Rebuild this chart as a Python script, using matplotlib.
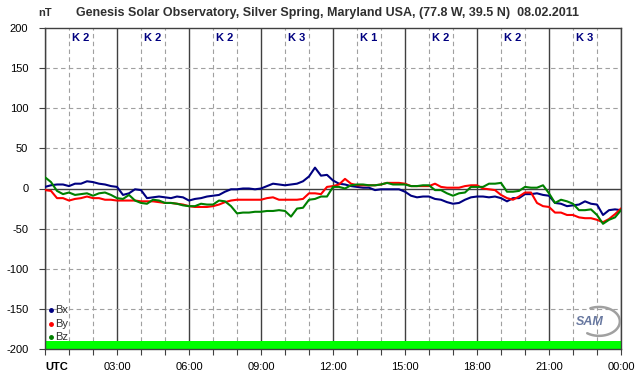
import numpy as np
import matplotlib
matplotlib.use("Agg")
import matplotlib.pyplot as plt

hours = [i * 0.25 for i in range(97)]

bx = [2, 4, 5, 5, 3, 6, 6, 9, 8, 6, 5, 3, 2, -8, -6, -1, -2, -12, -11, -10,
      -11, -12, -10, -11, -15, -13, -12, -10, -9, -8, -4, -1, -1, 0, 0, -1,
      0, 3, 6, 5, 4, 5, 6, 9, 15, 26, 16, 17, 10, 6, 5, 3, 2, 1, 1, -2,
      -1, -1, -1, -1, -4, -9, -11, -10, -10, -13, -14, -17, -19, -18, -14, -11,
      -10, -10, -11, -10, -12, -16, -12, -12, -7, -7, -6, -8, -9, -18, -19, -22,
      -21, -20, -16, -19, -20, -33, -27, -26, -27]

by = [-2, -3, -12, -12, -15, -13, -12, -10, -12, -12, -14, -14, -15, -15, -15, -15,
      -16, -16, -16, -17, -18, -18, -19, -20, -22, -23, -23, -23, -22, -20, -17, -15,
      -14, -14, -14, -14, -14, -12, -11, -14, -14, -14, -14, -13, -6, -6, -7, 2,
      3, 5, 12, 6, 4, 4, 4, 4, 5, 7, 7, 7, 6, 3, 3, 3,
      3, 6, 2, 1, 1, 1, 3, 4, 4, 0, -1, -2, -8, -12, -14, -10,
      -5, -5, -18, -22, -23, -30, -30, -33, -33, -36, -37, -37, -39, -42, -38, -32, -25]

bz = [14, 8, -3, -7, -5, -8, -7, -6, -9, -6, -5, -8, -12, -13, -8, -15,
      -18, -19, -14, -15, -18, -18, -19, -21, -22, -22, -19, -20, -20, -15, -16, -22,
      -31, -30, -30, -29, -29, -28, -28, -27, -28, -35, -25, -24, -14, -13, -10, -10,
      2, 2, 0, 4, 5, 5, 4, 4, 5, 7, 5, 5, 5, 3, 3, 4,
      4, -2, -2, -6, -9, -6, -5, 2, 2, 2, 6, 6, 7, -4, -4, -3,
      2, 1, 1, 4, -6, -18, -14, -16, -19, -27, -27, -26, -33, -44, -39, -36, -27]

k_index = [2, 2, 2, 3, 1, 2, 2, 3]
x_tick_labels = ["UTC", "03:00", "06:00", "09:00", "12:00", "15:00", "18:00", "21:00", "00:00"]
series_names = ["Bx", "By", "Bz"]
series_colors = ["#000080", "#ff0000", "#008000"]

plt.rcParams['font.family'] = ['Liberation Sans', 'DejaVu Sans']

fig = plt.figure(figsize=(6.42, 3.76), dpi=100)
W, H = 642, 376
ax = fig.add_axes([45 / W, 1 - 349 / H, (621 - 45) / W, (349 - 28) / H])
ax.set_xlim(0, 24)
ax.set_ylim(-200, 200)

# grid
for h in range(25):
    if h % 3 == 0:
        ax.axvline(h, color="#404040", lw=1.0, zorder=1)
    else:
        ax.axvline(h, color="#a0a0a0", lw=0.8, ls=(0, (4, 3)), zorder=1)
for v in range(-150, 200, 50):
    if v == 0:
        ax.axhline(v, color="#404040", lw=1.0, zorder=1)
    else:
        ax.axhline(v, color="#a0a0a0", lw=0.8, ls=(0, (4, 3)), zorder=1)

# green bar
ax.axhspan(-200, -190, color="#00ff00", zorder=2, lw=0)

for vals, c in zip([bx, by, bz], series_colors):
    ax.plot(hours, vals, color=c, lw=1.5, zorder=3)

for spine in ax.spines.values():
    spine.set_color("#404040")
    spine.set_linewidth(1.0)

ax.set_yticks(range(-200, 201, 50))
ax.set_yticklabels([str(v) for v in range(-200, 201, 50)], fontsize=8)
ax.tick_params(axis="y", length=4, width=0.8, color="#404040", pad=8)
ax.set_xticks(range(0, 25))
ax.set_xticklabels([""] * 25)
ax.tick_params(axis="x", length=4, width=0.8, color="#404040")

for i, lab in enumerate(x_tick_labels):
    h = i * 3
    if i == 0:
        ax.text(h, -0.04, lab, transform=ax.get_xaxis_transform(), ha="left", va="top",
                fontsize=8, fontweight="bold")
    else:
        ax.text(h, -0.04, lab, transform=ax.get_xaxis_transform(), ha="center", va="top",
                fontsize=8)

for i, k in enumerate(k_index):
    ax.text(1.5 + 3 * i, 187, f"K {k}", ha="center", va="center", color="#000080",
            fontsize=8, fontweight="bold")

# legend
for j, (name, c) in enumerate(zip(series_names, series_colors)):
    yv = -152 - j * 16.5
    ax.plot([0.25], [yv], marker="o", ms=2.5, color=c, zorder=4, clip_on=False)
    ax.text(0.42, yv, name, ha="left", va="center", fontsize=8, color="#303030")

# SAM logo approximation (decorative swoosh, axes-fraction coordinates)
ang = np.radians(np.linspace(115, -125, 60))
ax.plot(0.962 + 0.036 * np.cos(ang), 0.086 + 0.045 * np.sin(ang),
        transform=ax.transAxes, color="#a0a0a0", lw=1.8, zorder=4,
        solid_capstyle="round")
ax.text(0.945, 0.084, "SAM", transform=ax.transAxes, ha="center", va="center",
        fontsize=9, style="italic", color="#6878a0", fontweight="bold", zorder=5)

fig.text(327 / W, 1 - 13 / H,
         "Genesis Solar Observatory, Silver Spring, Maryland USA, (77.8 W, 39.5 N)  08.02.2011",
         ha="center", va="center", fontsize=9, fontweight="bold", color="#303030")
fig.text(45 / W, 1 - 13 / H, "nT", ha="center", va="center", fontsize=8,
         fontweight="bold", color="#303030")

fig.savefig("out.png", dpi=100, facecolor="white")
